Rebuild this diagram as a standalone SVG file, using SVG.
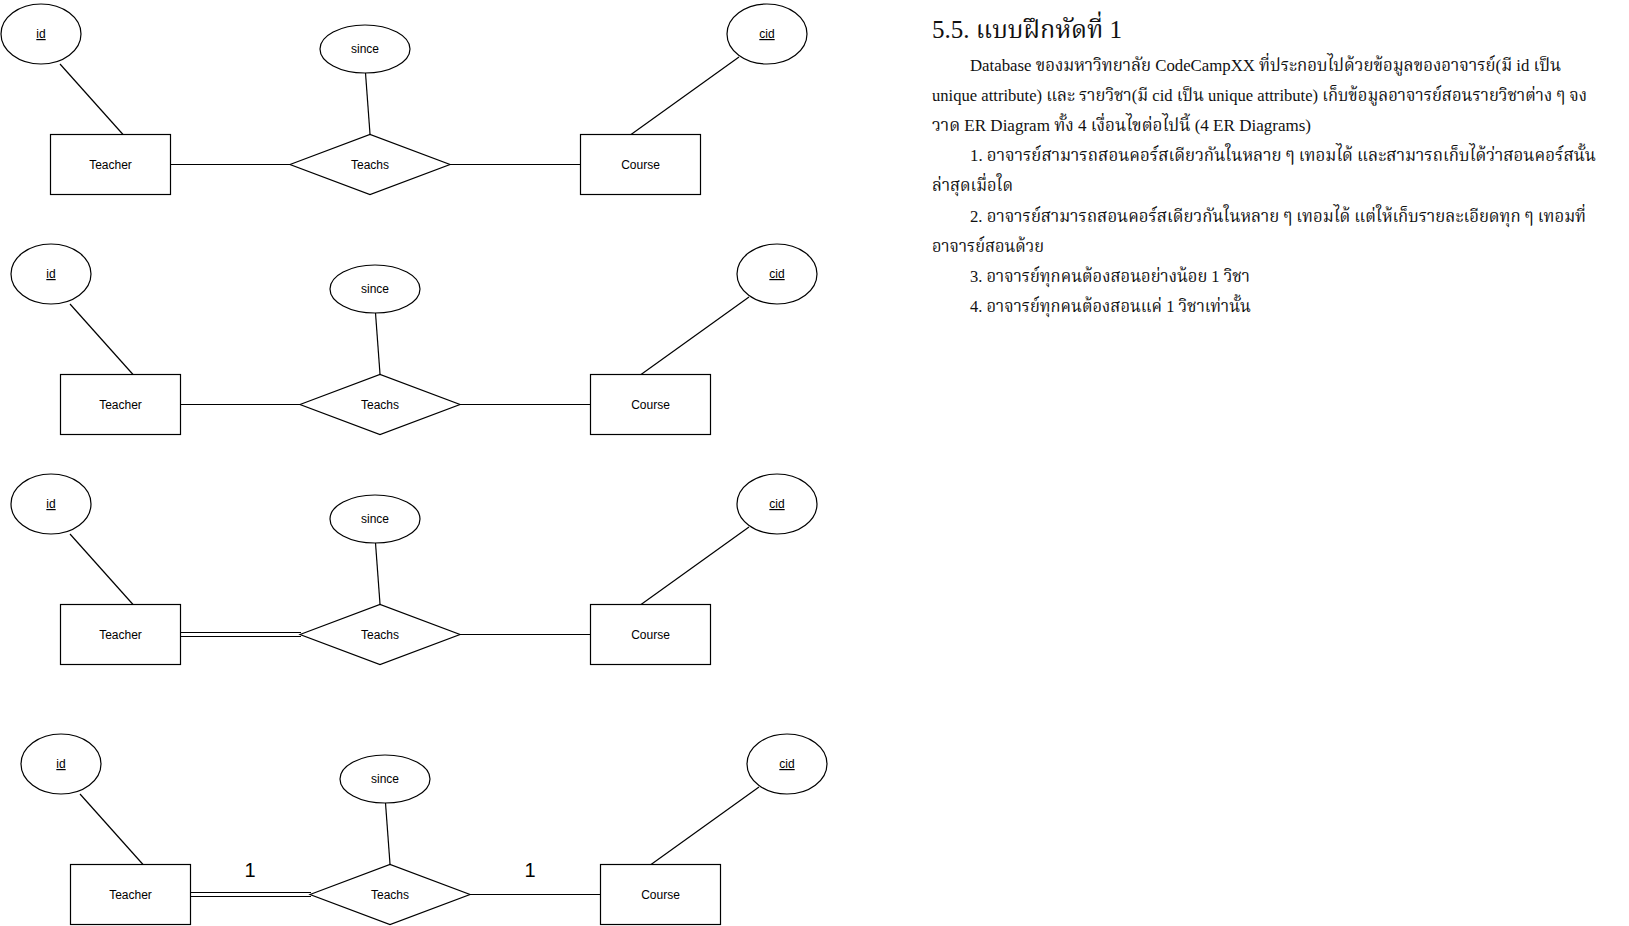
<svg xmlns="http://www.w3.org/2000/svg" width="1629" height="926" viewBox="0 0 1629 926">
  <style>
    .ent { fill: #ffffff; stroke: #000000; stroke-width: 1.2; }
    .attr { fill: #ffffff; stroke: #000000; stroke-width: 1.2; }
    .rel { fill: #ffffff; stroke: #000000; stroke-width: 1.2; }
    .edge { stroke: #000000; stroke-width: 1.2; fill: none; }
    .lbl { font-family: "Liberation Sans", Arial, Helvetica, sans-serif; font-size: 12px; fill: #000000; text-anchor: middle; }
    .key { text-decoration: underline; }
    .card { font-family: "Liberation Sans", Arial, Helvetica, sans-serif; font-size: 20px; fill: #000000; text-anchor: middle; }
    .doc { font-family: "Liberation Serif", "Noto Serif Thai", "Noto Sans Thai", "TH Sarabun New", Norasi, Garuda, Loma, serif; fill: #111111; }
    .latin { font-family: "Liberation Serif", "Times New Roman", serif; }
    .title { font-size: 25px; }
    .body { font-size: 17px; }
  </style>

  <rect x="0" y="0" width="1629" height="926" fill="#ffffff"/>

  <!-- ER diagram 1: plain relationship -->
  <g id="er1">
    <g id="er1-connectors">
      <line class="edge" x1="60" y1="64" x2="123" y2="134.5"/>
      <line class="edge" x1="365.5" y1="73" x2="370" y2="134"/>
      <line class="edge" x1="739" y1="57" x2="631" y2="134.5"/>
      <line class="edge" x1="170.5" y1="164.5" x2="290" y2="164.5"/>
      <line class="edge" x1="450" y1="164.5" x2="580.5" y2="164.5"/>
    </g>
    <g id="er1-id"><ellipse class="attr" cx="41" cy="34" rx="40" ry="30"/><text class="lbl key" x="41" y="38">id</text></g>
    <g id="er1-since"><ellipse class="attr" cx="365" cy="49" rx="45" ry="24"/><text class="lbl" x="365" y="53">since</text></g>
    <g id="er1-cid"><ellipse class="attr" cx="767" cy="34" rx="40" ry="30"/><text class="lbl key" x="767" y="38">cid</text></g>
    <g id="er1-teacher"><rect class="ent" x="50.5" y="134.5" width="120" height="60"/><text class="lbl" x="110.5" y="168.5">Teacher</text></g>
    <g id="er1-teachs"><polygon class="rel" points="290,164.5 370,134.5 450,164.5 370,194.5"/><text class="lbl" x="370" y="168.5">Teachs</text></g>
    <g id="er1-course"><rect class="ent" x="580.5" y="134.5" width="120" height="60"/><text class="lbl" x="640.5" y="168.5">Course</text></g>
  </g>

  <!-- ER diagram 2: same layout, shifted -->
  <g id="er2" transform="translate(10,240)">
    <g id="er2-connectors">
      <line class="edge" x1="60" y1="64" x2="123" y2="134.5"/>
      <line class="edge" x1="365.5" y1="73" x2="370" y2="134"/>
      <line class="edge" x1="739" y1="57" x2="631" y2="134.5"/>
      <line class="edge" x1="170.5" y1="164.5" x2="290" y2="164.5"/>
      <line class="edge" x1="450" y1="164.5" x2="580.5" y2="164.5"/>
    </g>
    <g id="er2-id"><ellipse class="attr" cx="41" cy="34" rx="40" ry="30"/><text class="lbl key" x="41" y="38">id</text></g>
    <g id="er2-since"><ellipse class="attr" cx="365" cy="49" rx="45" ry="24"/><text class="lbl" x="365" y="53">since</text></g>
    <g id="er2-cid"><ellipse class="attr" cx="767" cy="34" rx="40" ry="30"/><text class="lbl key" x="767" y="38">cid</text></g>
    <g id="er2-teacher"><rect class="ent" x="50.5" y="134.5" width="120" height="60"/><text class="lbl" x="110.5" y="168.5">Teacher</text></g>
    <g id="er2-teachs"><polygon class="rel" points="290,164.5 370,134.5 450,164.5 370,194.5"/><text class="lbl" x="370" y="168.5">Teachs</text></g>
    <g id="er2-course"><rect class="ent" x="580.5" y="134.5" width="120" height="60"/><text class="lbl" x="640.5" y="168.5">Course</text></g>
  </g>

  <!-- ER diagram 3: total participation of Teacher (double line) -->
  <g id="er3" transform="translate(10,470)">
    <g id="er3-connectors">
      <line class="edge" x1="60" y1="64" x2="123" y2="134.5"/>
      <line class="edge" x1="365.5" y1="73" x2="370" y2="134"/>
      <line class="edge" x1="739" y1="57" x2="631" y2="134.5"/>
      <line class="edge" x1="170.5" y1="162.5" x2="291" y2="162.5"/>
      <line class="edge" x1="170.5" y1="166.5" x2="291" y2="166.5"/>
      <line class="edge" x1="450" y1="164.5" x2="580.5" y2="164.5"/>
    </g>
    <g id="er3-id"><ellipse class="attr" cx="41" cy="34" rx="40" ry="30"/><text class="lbl key" x="41" y="38">id</text></g>
    <g id="er3-since"><ellipse class="attr" cx="365" cy="49" rx="45" ry="24"/><text class="lbl" x="365" y="53">since</text></g>
    <g id="er3-cid"><ellipse class="attr" cx="767" cy="34" rx="40" ry="30"/><text class="lbl key" x="767" y="38">cid</text></g>
    <g id="er3-teacher"><rect class="ent" x="50.5" y="134.5" width="120" height="60"/><text class="lbl" x="110.5" y="168.5">Teacher</text></g>
    <g id="er3-teachs"><polygon class="rel" points="290,164.5 370,134.5 450,164.5 370,194.5"/><text class="lbl" x="370" y="168.5">Teachs</text></g>
    <g id="er3-course"><rect class="ent" x="580.5" y="134.5" width="120" height="60"/><text class="lbl" x="640.5" y="168.5">Course</text></g>
  </g>

  <!-- ER diagram 4: total participation plus 1 : 1 cardinality -->
  <g id="er4" transform="translate(20,730)">
    <g id="er4-connectors">
      <line class="edge" x1="60" y1="64" x2="123" y2="134.5"/>
      <line class="edge" x1="365.5" y1="73" x2="370" y2="134"/>
      <line class="edge" x1="739" y1="57" x2="631" y2="134.5"/>
      <line class="edge" x1="170.5" y1="162.5" x2="291" y2="162.5"/>
      <line class="edge" x1="170.5" y1="166.5" x2="291" y2="166.5"/>
      <line class="edge" x1="450" y1="164.5" x2="580.5" y2="164.5"/>
      <text class="card" x="230" y="147">1</text>
      <text class="card" x="510" y="147">1</text>
    </g>
    <g id="er4-id"><ellipse class="attr" cx="41" cy="34" rx="40" ry="30"/><text class="lbl key" x="41" y="38">id</text></g>
    <g id="er4-since"><ellipse class="attr" cx="365" cy="49" rx="45" ry="24"/><text class="lbl" x="365" y="53">since</text></g>
    <g id="er4-cid"><ellipse class="attr" cx="767" cy="34" rx="40" ry="30"/><text class="lbl key" x="767" y="38">cid</text></g>
    <g id="er4-teacher"><rect class="ent" x="50.5" y="134.5" width="120" height="60"/><text class="lbl" x="110.5" y="168.5">Teacher</text></g>
    <g id="er4-teachs"><polygon class="rel" points="290,164.5 370,134.5 450,164.5 370,194.5"/><text class="lbl" x="370" y="168.5">Teachs</text></g>
    <g id="er4-course"><rect class="ent" x="580.5" y="134.5" width="120" height="60"/><text class="lbl" x="640.5" y="168.5">Course</text></g>
  </g>

  <!-- Exercise description -->
  <g id="exercise-text" class="doc">
    <text class="title" x="932" y="37.5" textLength="190" lengthAdjust="spacingAndGlyphs"><tspan class="latin">5.5. </tspan>แบบฝึกหัดที่<tspan class="latin"> 1</tspan></text>
    <text class="body" x="970" y="71" textLength="591" lengthAdjust="spacingAndGlyphs">Database ของมหาวิทยาลัย CodeCampXX ที่ประกอบไปด้วยข้อมูลของอาจารย์(มี id เป็น</text>
    <text class="body" x="932" y="101" textLength="655" lengthAdjust="spacingAndGlyphs">unique attribute) และ รายวิชา(มี cid เป็น unique attribute) เก็บข้อมูลอาจารย์สอนรายวิชาต่าง ๆ จง</text>
    <text class="body" x="932" y="131" textLength="379" lengthAdjust="spacingAndGlyphs">วาด ER Diagram ทั้ง 4 เงื่อนไขต่อไปนี้ (4 ER Diagrams)</text>
    <text class="body" x="970" y="161" textLength="626" lengthAdjust="spacingAndGlyphs">1. อาจารย์สามารถสอนคอร์สเดียวกันในหลาย ๆ เทอมได้ และสามารถเก็บได้ว่าสอนคอร์สนั้น</text>
    <text class="body" x="932" y="191" textLength="81" lengthAdjust="spacingAndGlyphs">ล่าสุดเมื่อใด</text>
    <text class="body" x="970" y="221.5" textLength="616" lengthAdjust="spacingAndGlyphs">2. อาจารย์สามารถสอนคอร์สเดียวกันในหลาย ๆ เทอมได้ แต่ให้เก็บรายละเอียดทุก ๆ เทอมที่</text>
    <text class="body" x="932" y="251.5" textLength="112" lengthAdjust="spacingAndGlyphs">อาจารย์สอนด้วย</text>
    <text class="body" x="970" y="281.5" textLength="280" lengthAdjust="spacingAndGlyphs">3. อาจารย์ทุกคนต้องสอนอย่างน้อย 1 วิชา</text>
    <text class="body" x="970" y="311.5" textLength="281" lengthAdjust="spacingAndGlyphs">4. อาจารย์ทุกคนต้องสอนแค่ 1 วิชาเท่านั้น</text>
  </g>
</svg>
